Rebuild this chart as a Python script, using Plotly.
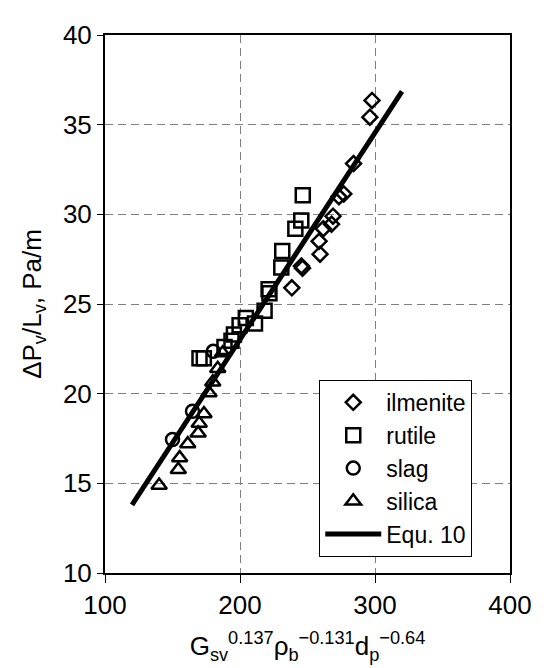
import plotly.graph_objects as go

# ---- data ----
ilmenite_x = [297.8, 296.2, 284.1, 276.9, 273.3, 268.9, 267.8, 261.7, 258.6, 259.3, 245.5, 246.3, 238.4]
ilmenite_y = [36.35, 35.42, 32.83, 31.14, 30.98, 29.9, 29.45, 29.2, 28.5, 27.78, 27.12, 27.0, 25.9]

rutile_x = [246.5, 245.4, 241.0, 231.3, 230.6, 221.2, 221.8, 218.2, 211.1, 204.3, 199.7, 195.5, 193.7, 188.5, 170.0, 173.2]
rutile_y = [31.07, 29.65, 29.2, 27.95, 27.04, 25.82, 25.6, 24.62, 23.91, 24.22, 23.81, 23.3, 22.95, 22.6, 21.98, 21.98]

slag_x = [180.2, 164.8, 150.0]
slag_y = [22.36, 19.02, 17.44]

silica_x = [187.1, 183.5, 179.8, 177.0, 173.3, 169.8, 169.0, 161.3, 155.3, 154.3, 140.1]
silica_y = [22.27, 21.4, 20.65, 20.05, 18.88, 18.35, 17.8, 17.2, 16.42, 15.77, 14.89]

equ_x = [120, 320]
equ_y = [13.8, 36.85]

x_ticks = [100, 200, 300, 400]
y_ticks = [10, 15, 20, 25, 30, 35, 40]

FONT = "Arial, Liberation Sans, sans-serif"

fig = go.Figure()

mk_line = dict(color="black", width=2.5)
fig.add_trace(go.Scatter(x=ilmenite_x, y=ilmenite_y, mode="markers", name="ilmenite",
                         marker=dict(symbol="diamond-open", size=11.5, color="black", line=mk_line)))
fig.add_trace(go.Scatter(x=rutile_x, y=rutile_y, mode="markers", name="rutile",
                         marker=dict(symbol="square-open", size=14, color="black", line=mk_line)))
fig.add_trace(go.Scatter(x=slag_x, y=slag_y, mode="markers", name="slag",
                         marker=dict(symbol="circle-open", size=13, color="black", line=mk_line)))
fig.add_trace(go.Scatter(x=silica_x, y=silica_y, mode="markers", name="silica",
                         marker=dict(symbol="triangle-up-open", size=13.5, color="black", line=mk_line)))
fig.add_trace(go.Scatter(x=equ_x, y=equ_y, mode="lines", name="Equ. 10",
                         line=dict(color="black", width=5)))

# the page body has an 8px margin, so the figure is 8px smaller and margins shifted
fig.update_layout(
    width=536, height=660,
    margin=dict(l=96.5, r=24.3, t=16.7, b=85.5),
    paper_bgcolor="white", plot_bgcolor="white",
    font=dict(family=FONT, color="black", size=26),
    showlegend=True,
    legend=dict(x=0.529, y=0.359, xanchor="left", yanchor="top",
                bgcolor="white", bordercolor="black", borderwidth=1,
                font=dict(size=23, family=FONT), itemwidth=56,
                tracegroupgap=0),
)

fig.update_xaxes(
    range=[100, 400], tickvals=x_ticks, ticktext=[str(v) for v in x_ticks],
    showline=True, linecolor="black", linewidth=1.5, mirror=True,
    ticks="outside", ticklen=8, tickcolor="black", tickwidth=1,
    showgrid=True, gridcolor="#808080", griddash="8px,5px", gridwidth=1,
    zeroline=False,
    tickfont=dict(size=26),
    title=dict(text="G<sub>sv</sub><sup>0.137</sup>ρ<sub>b</sub><sup>−0.131</sup>d<sub>p</sub><sup>−0.64</sup>",
               font=dict(size=26), standoff=18),
)
fig.update_yaxes(
    range=[10, 40], tickvals=y_ticks, ticktext=[str(v) for v in y_ticks],
    showline=True, linecolor="black", linewidth=2, mirror=True,
    ticks="outside", ticklen=6, tickcolor="black", tickwidth=1,
    showgrid=True, gridcolor="#808080", griddash="8px,5px", gridwidth=1,
    zeroline=False,
    tickfont=dict(size=26),
    title=dict(text="ΔP<sub>v</sub>/L<sub>v</sub>, Pa/m", font=dict(size=26), standoff=14),
)

fig.write_html("out.html")
